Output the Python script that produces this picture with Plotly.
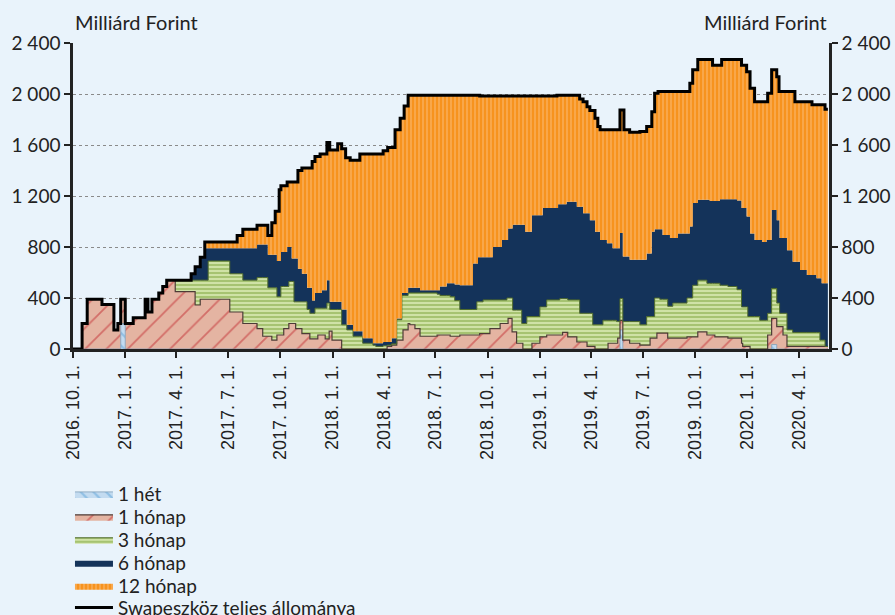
import pandas as pd
import plotly.graph_objects as go

# Swap állomány futamidő szerint, milliárd forint
# napok 2016. 10. 1. óta
start = pd.Timestamp("2016-10-01")
days = [
    0, 14, 16, 25, 51, 72, 79, 84, 92, 106, 127, 132, 139, 151, 158, 165,
    180, 208, 215, 224, 232, 238, 276, 289, 299, 324, 334, 343, 350, 356,
    359, 363, 366, 371, 377, 380, 385, 389, 392, 396, 403, 412, 417, 421,
    426, 431, 435, 438, 444, 447, 451, 452, 456, 466, 473, 480, 482, 488,
    493, 505, 510, 528, 533, 546, 553, 554, 561, 567, 570, 576, 579, 581,
    583, 590, 593, 602, 611, 641, 646, 658, 664, 672, 681, 704, 711, 713,
    716, 722, 734, 739, 752, 755, 764, 766, 773, 774, 781, 790, 792, 796,
    799, 808, 822, 827, 834, 852, 854, 857, 862, 869, 871, 887, 892, 898,
    905, 910, 915, 919, 924, 928, 933, 940, 942, 950, 957, 959, 963, 968,
    970, 980, 998, 1010, 1016, 1019, 1024, 1028, 1030, 1033, 1038, 1047,
    1051, 1056, 1065, 1081, 1086, 1091, 1100, 1116, 1121, 1126, 1130, 1139,
    1142, 1153, 1169, 1177, 1179, 1186, 1188, 1192, 1200, 1209, 1213, 1221,
    1223, 1230, 1239, 1243, 1244, 1250, 1257, 1267, 1271, 1280, 1292, 1301,
    1309, 1315, 1318, 1324, 1329,
]
het_1 = [
    0, 0, 0, 0, 0, 0, 0, 200, 0, 0, 0, 0, 0, 0, 0, 0,
    0, 0, 0, 0, 0, 0, 0, 0, 0, 0, 0, 0, 0, 0,
    0, 0, 0, 0, 0, 0, 0, 0, 0, 0, 0, 0, 0, 0,
    0, 0, 0, 0, 0, 0, 0, 0, 0, 0, 0, 0, 0, 0,
    0, 0, 0, 0, 0, 0, 0, 0, 0, 0, 0, 0, 0, 0,
    0, 0, 0, 0, 0, 0, 0, 0, 0, 0, 0, 0, 0, 0,
    0, 0, 0, 0, 0, 0, 0, 0, 0, 0, 0, 0, 0, 0,
    0, 0, 0, 0, 0, 0, 0, 0, 0, 0, 0, 0, 0, 0,
    0, 0, 0, 0, 0, 0, 0, 0, 0, 0, 0, 0, 150, 0,
    0, 0, 0, 0, 0, 0, 0, 0, 0, 0, 0, 0,
    0, 0, 0, 0, 0, 0, 0, 0, 0, 0, 0, 0,
    0, 0, 0, 0, 0, 0, 0, 0, 0, 0, 0, 0,
    0, 35, 0, 0, 0, 0, 0, 0, 0, 0, 0, 0,
    0, 0, 0, 0, 0,
]
honap_1 = [
    0, 0, 200, 390, 350, 150, 200, 190, 200, 245, 390, 290, 390, 440, 490, 540,
    450, 450, 345, 390, 390, 390, 290, 290, 200, 160, 100, 100, 70, 70,
    110, 110, 110, 160, 160, 200, 200, 200, 160, 160, 120, 120, 80, 80,
    80, 110, 110, 110, 80, 80, 140, 140, 70, 70, 0, 0, 0, 0,
    0, 0, 0, 0, 0, 0, 20, 20, 30, 30, 70, 70, 70, 150,
    150, 200, 190, 160, 100, 110, 110, 110, 100, 100, 110, 110, 110, 110,
    120, 120, 160, 160, 200, 200, 200, 240, 135, 135, 45, 45, 0, 0,
    0, 45, 95, 95, 110, 110, 110, 110, 130, 130, 95, 55, 55, 55,
    20, 20, 20, 0, 0, 0, 0, 0, 45, 45, 45, 85, 75, 70,
    70, 45, 30, 30, 85, 85, 85, 125, 125, 125, 125, 85,
    85, 85, 85, 95, 95, 95, 135, 110, 110, 110, 95, 95,
    95, 85, 85, 45, 20, 20, 20, 0, 0, 0, 0, 0,
    110, 205, 175, 175, 175, 110, 20, 20, 20, 20, 20, 20,
    20, 20, 20, 20, 20,
]
honap_3 = [
    0, 0, 0, 0, 0, 0, 0, 0, 0, 0, 0, 0, 0, 0, 0, 0,
    90, 90, 195, 150, 150, 300, 300, 300, 340, 400, 460, 380, 410, 410,
    300, 300, 380, 330, 330, 330, 330, 170, 210, 210, 250, 190, 200, 200,
    240, 210, 210, 210, 240, 280, 220, 170, 240, 240, 190, 190, 150, 150,
    100, 100, 45, 30, 20, 25, 10, 10, 10, 10, 160, 160, 350, 270,
    270, 240, 250, 280, 340, 320, 310, 310, 310, 280, 200, 200, 260, 260,
    250, 265, 225, 225, 185, 185, 200, 160, 265, 170, 260, 155, 200, 200,
    255, 210, 235, 235, 275, 275, 275, 285, 265, 265, 290, 330, 225, 225,
    260, 260, 170, 190, 190, 190, 225, 225, 180, 180, 170, 130, 170, 145,
    145, 170, 160, 225, 170, 170, 315, 275, 275, 265, 265, 250,
    250, 275, 275, 305, 305, 405, 405, 405, 405, 405, 420, 405,
    405, 405, 380, 285, 310, 310, 235, 255, 255, 225, 225, 225,
    170, 235, 185, 185, 105, 170, 130, 110, 110, 110, 110, 110,
    110, 50, 50, 0, 0,
]
honap_6 = [
    0, 0, 0, 0, 0, 0, 0, 0, 0, 0, 0, 0, 0, 0, 0, 0,
    0, 50, 105, 180, 250, 100, 200, 200, 250, 260, 260, 260, 260, 260,
    280, 280, 270, 270, 310, 270, 180, 340, 340, 260, 220, 170, 200, 100,
    120, 120, 120, 140, 140, 180, 180, 60, 60, 60, 120, 120, 40, 40,
    40, 40, 40, 15, 25, 30, 25, 25, 45, 45, 10, 10, 20, 20,
    20, 40, 40, 40, 20, 30, 70, 95, 105, 125, 190, 360, 300, 350,
    350, 335, 335, 415, 415, 470, 455, 545, 545, 670, 670, 775, 775, 720,
    665, 795, 720, 775, 720, 720, 750, 740, 740, 760, 770, 730, 835, 785,
    785, 730, 820, 730, 730, 665, 630, 605, 605, 565, 575, 575, 515, 510,
    510, 485, 510, 495, 495, 665, 540, 540, 540, 550, 505, 560,
    535, 510, 545, 505, 560, 645, 630, 655, 645, 645, 645, 675,
    675, 685, 700, 775, 775, 710, 785, 650, 600, 630, 615, 630,
    575, 615, 650, 650, 590, 590, 625, 555, 555, 490, 450, 450,
    425, 485, 445, 495, 495,
]
honap_12 = [
    0, 0, 0, 0, 0, 0, 0, 0, 0, 0, 0, 0, 0, 0, 0, 0,
    0, 0, 0, 0, 50, 50, 50, 100, 150, 150, 150, 150, 250, 340,
    390, 560, 520, 520, 510, 510, 600, 600, 600, 770, 830, 940, 940, 1090,
    1070, 1070, 1090, 1070, 1070, 1080, 1080, 1190, 1190, 1240, 1260, 1190, 1310, 1290,
    1340, 1390, 1445, 1485, 1485, 1500, 1500, 1525, 1495, 1635, 1480, 1570, 1370, 1370,
    1465, 1510, 1510, 1510, 1530, 1530, 1500, 1475, 1475, 1485, 1490, 1320, 1320, 1270,
    1265, 1265, 1265, 1185, 1185, 1130, 1130, 1040, 1040, 1010, 1010, 1010, 1010, 1065,
    1065, 935, 935, 880, 880, 885, 855, 855, 855, 835, 835, 875, 845, 875,
    835, 860, 860, 890, 825, 865, 865, 890, 890, 930, 930, 930, 965, 1150,
    995, 1000, 1005, 995, 995, 940, 1065, 1065, 1080, 1080, 1125, 1125,
    1150, 1150, 1115, 1115, 1125, 1045, 1100, 1100, 1110, 1065, 1065, 1050,
    1095, 1095, 1105, 1120, 1120, 1135, 1135, 1140, 1085, 1085, 1100, 1085,
    1150, 1100, 1125, 1010, 1150, 1150, 1245, 1335, 1255, 1320, 1360, 1335,
    1360, 1360, 1400, 1365, 1365,
]
teljes = [
    0, 0, 200, 390, 350, 150, 200, 390, 200, 245, 390, 290, 390, 440, 490, 540,
    540, 590, 645, 720, 840, 840, 840, 890, 940, 970, 970, 890, 990, 1080,
    1080, 1250, 1280, 1280, 1310, 1310, 1310, 1310, 1310, 1400, 1420, 1420, 1420, 1470,
    1510, 1510, 1530, 1530, 1530, 1620, 1620, 1560, 1560, 1610, 1570, 1500, 1500, 1480,
    1480, 1530, 1530, 1530, 1530, 1555, 1555, 1580, 1580, 1720, 1720, 1810, 1810, 1810,
    1905, 1990, 1990, 1990, 1990, 1990, 1990, 1990, 1990, 1990, 1990, 1990, 1990, 1990,
    1985, 1985, 1985, 1985, 1985, 1985, 1985, 1985, 1985, 1985, 1985, 1985, 1985, 1985,
    1985, 1985, 1985, 1985, 1985, 1990, 1990, 1990, 1990, 1990, 1990, 1990, 1960, 1940,
    1900, 1870, 1870, 1810, 1745, 1720, 1720, 1720, 1720, 1720, 1720, 1720, 1875, 1875,
    1720, 1700, 1705, 1745, 1745, 1860, 2005, 2005, 2020, 2020, 2020, 2020,
    2020, 2020, 2020, 2020, 2085, 2190, 2270, 2270, 2270, 2225, 2225, 2225,
    2270, 2270, 2270, 2225, 2225, 2175, 2175, 2045, 1940, 1940, 1940, 1940,
    2005, 2190, 2135, 2020, 2020, 2020, 2020, 2020, 1940, 1940, 1940, 1915,
    1915, 1915, 1915, 1880, 1880,
]

tick_dates = [
    "2016-10-01", "2017-01-01", "2017-04-01", "2017-07-01", "2017-10-01",
    "2018-01-01", "2018-04-01", "2018-07-01", "2018-10-01", "2019-01-01",
    "2019-04-01", "2019-07-01", "2019-10-01", "2020-01-01", "2020-04-01",
]
tick_labels = [
    "2016. 10. 1.", "2017. 1. 1.", "2017. 4. 1.", "2017. 7. 1.", "2017. 10. 1.",
    "2018. 1. 1.", "2018. 4. 1.", "2018. 7. 1.", "2018. 10. 1.", "2019. 1. 1.",
    "2019. 4. 1.", "2019. 7. 1.", "2019. 10. 1.", "2020. 1. 1.", "2020. 4. 1.",
]
y_vals = [0, 400, 800, 1200, 1600, 2000, 2400]
y_labels = ["0", "400", "800", "1 200", "1 600", "2 000", "2 400"]

dates = start + pd.to_timedelta(days, unit="D")
bg = "#e9f3fb"
txt = "#222222"

series = [
    ("1 hét", het_1, "#c3dbf0", dict(shape="\\", fgcolor="#5ea4d8", size=9, solidity=0.25), "#7f9db8", 0.8),
    ("1 hónap", honap_1, "#e4b4a2", dict(shape="/", fgcolor="#c1272d", size=15, solidity=0.12), "#4d3b36", 1.2),
    ("3 hónap", honap_3, "#cfe2a6", dict(shape="-", fgcolor="#7da43c", size=4, solidity=0.5), "#4f6b2a", 1.0),
    ("6 hónap", honap_6, "#14335a", None, "#14335a", 0),
    ("12 hónap", honap_12, "#f7931e", dict(shape="|", fgcolor="#fcc68c", size=4, solidity=0.4), "#f7931e", 0),
]
legend_ids = ["legend", "legend2", "legend3", "legend4", "legend5", "legend6"]
# one legend box per entry, so the row spacing can follow the original
legend_rows = [-0.474, -0.549, -0.624, -0.699, -0.774, -0.845]

fig = go.Figure()
for i, (name, vals, color, pattern, lcolor, lwidth) in enumerate(series):
    fig.add_trace(
        go.Scatter(
            x=dates,
            y=vals,
            name=name,
            mode="lines",
            stackgroup="swap",
            legend=legend_ids[i],
            line=dict(shape="hv", color=lcolor, width=lwidth),
            fillcolor=color,
            fillpattern=(dict(bgcolor=color, **pattern) if pattern else None),
        )
    )

fig.add_trace(
    go.Scatter(
        x=dates,
        y=teljes,
        name="Swapeszköz teljes állománya",
        mode="lines",
        yaxis="y2",
        legend=legend_ids[5],
        line=dict(shape="hv", color="black", width=3),
    )
)

axis_common = dict(
    range=[0, 2400],
    tickvals=y_vals,
    ticktext=y_labels,
    ticks="outside",
    ticklen=6,
    tickwidth=2,
    tickcolor="#222222",
    showline=True,
    linecolor="#222222",
    linewidth=2.5,
    zeroline=False,
    automargin=False,
    tickfont=dict(family="Lato", size=19, color=txt),
)

fig.update_layout(
    width=895,
    height=615,
    margin=dict(l=73, r=66, t=43, b=266, autoexpand=False),
    paper_bgcolor=bg,
    plot_bgcolor=bg,
    showlegend=True,
    xaxis=dict(
        type="date",
        range=[start, start + pd.Timedelta(days=1331)],
        tickvals=tick_dates,
        ticktext=tick_labels,
        tickangle=-90,
        ticks="outside",
        ticklen=6,
        tickwidth=2,
        tickcolor="#222222",
        showline=True,
        linecolor="#222222",
        linewidth=2.5,
        showgrid=False,
        automargin=False,
        tickfont=dict(family="Liberation Sans", size=18, color=txt),
    ),
    yaxis=dict(
        **axis_common,
        showgrid=True,
        gridcolor="#8a8a8a",
        griddash="dot",
        gridwidth=1,
    ),
    yaxis2=dict(
        **axis_common,
        overlaying="y",
        side="right",
        showgrid=False,
    ),
    annotations=[
        dict(text="Milliárd Forint", x=0, y=1.067, xref="paper", yref="paper",
             xanchor="left", yanchor="middle", showarrow=False,
             font=dict(family="Lato", size=20, color=txt)),
        dict(text="Milliárd Forint", x=1, y=1.067, xref="paper", yref="paper",
             xanchor="right", yanchor="middle", showarrow=False,
             font=dict(family="Lato", size=20, color=txt)),
    ],
)

for lid, ly in zip(legend_ids, legend_rows):
    fig.update_layout({
        lid: dict(
            orientation="v",
            x=-0.004,
            y=ly,
            xanchor="left",
            yanchor="middle",
            font=dict(family="Lato", size=19, color=txt),
            bgcolor="rgba(0,0,0,0)",
            itemwidth=38,
        )
    })

# the page's default body margin would shift the figure by 8 px
fig.write_html(
    "out.html",
    config={"displayModeBar": False},
    post_script="document.body.style.margin='0';"
    "document.body.style.background='" + bg + "';",
)
